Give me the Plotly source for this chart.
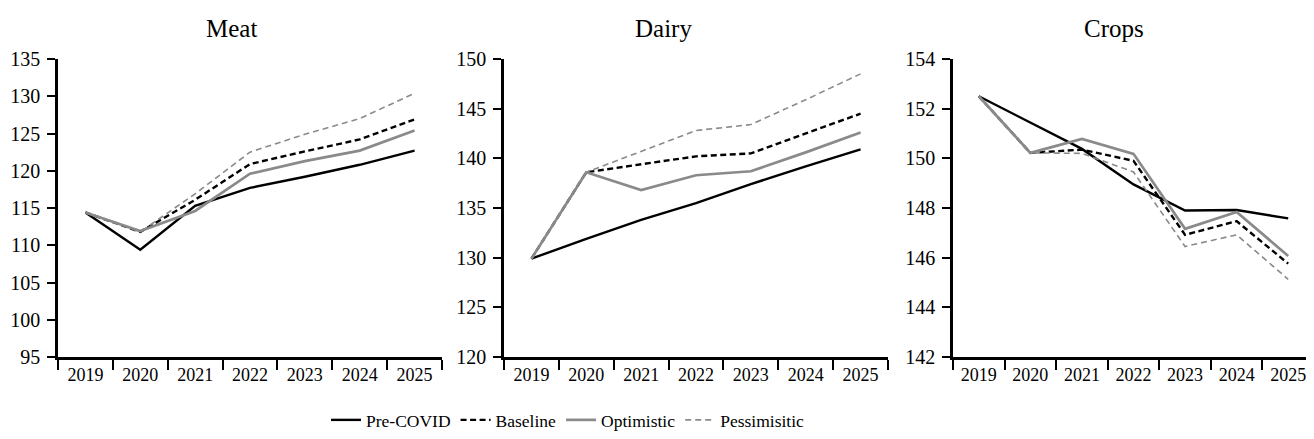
import plotly.graph_objects as go

years = ["2019", "2020", "2021", "2022", "2023", "2024", "2025"]
panels = ["Meat", "Dairy", "Crops"]
series_names = ["Pre-COVID", "Baseline", "Optimistic", "Pessimisitic"]

meat_pre = [114.4, 109.4, 115.3, 117.7, 119.2, 120.8, 122.7]
meat_base = [114.4, 111.8, 116.1, 120.9, 122.6, 124.2, 126.9]
meat_opt = [114.4, 111.9, 114.6, 119.6, 121.3, 122.7, 125.4]
meat_pess = [114.4, 111.8, 116.9, 122.5, 124.9, 127.0, 130.4]

dairy_pre = [129.9, 131.9, 133.8, 135.5, 137.4, 139.2, 140.9]
dairy_base = [129.9, 138.6, 139.4, 140.2, 140.5, 142.5, 144.5]
dairy_opt = [129.9, 138.6, 136.8, 138.3, 138.7, 140.6, 142.6]
dairy_pess = [129.9, 138.6, 140.7, 142.8, 143.4, 145.9, 148.5]

crops_pre = [152.5, 151.45, 150.38, 148.95, 147.9, 147.92, 147.58]
crops_base = [152.5, 150.22, 150.35, 149.9, 146.92, 147.47, 145.76]
crops_opt = [152.5, 150.22, 150.78, 150.18, 147.16, 147.84, 146.07]
crops_pess = [152.5, 150.22, 150.2, 149.45, 146.45, 146.92, 145.13]

y_ranges = [[95, 135], [120, 150], [142, 154]]
y_dticks = [5, 5, 2]

styles = [
    dict(color="#000000", width=2.4, dash="solid"),
    dict(color="#000000", width=2.4, dash="6px,3.5px"),
    dict(color="#8a8a8a", width=2.7, dash="solid"),
    dict(color="#8a8a8a", width=1.6, dash="6px,4px"),
]

data = [
    [meat_pre, meat_base, meat_opt, meat_pess],
    [dairy_pre, dairy_base, dairy_opt, dairy_pess],
    [crops_pre, crops_base, crops_opt, crops_pess],
]

# page has an 8px body margin: figure sits at (8, 8)
OFF = 8
W, H = 1314 - OFF, 439 - OFF
x_domains_px = [(58, 442), (504, 888), (953, 1314)]
x_ranges = [[-0.5, 6.5], [-0.5, 6.5], [-0.5, 6.5]]
y_dom = [1 - (357 - OFF) / H, 1 - (59 - OFF) / H]
title_x_px = [231, 664, 1114]


def fx(px):
    return (px - OFF) / W


def fy(py):
    return 1 - (py - OFF) / H


FONT = "Liberation Serif"

fig = go.Figure()
for p in range(3):
    xa = "x" if p == 0 else f"x{p+1}"
    ya = "y" if p == 0 else f"y{p+1}"
    for s in range(4):
        fig.add_trace(go.Scatter(
            x=years, y=data[p][s], mode="lines",
            name=series_names[s], line=styles[s],
            xaxis=xa, yaxis=ya, showlegend=(p == 0),
        ))
    xkey = "xaxis" if p == 0 else f"xaxis{p+1}"
    ykey = "yaxis" if p == 0 else f"yaxis{p+1}"
    fig.update_layout(**{
        xkey: dict(
            domain=[fx(x_domains_px[p][0]), min(1.0, fx(x_domains_px[p][1]))],
            anchor=ya, type="category", range=x_ranges[p],
            tickson="boundaries", ticks="outside", ticklen=10, tickwidth=2.2,
            tickcolor="black", showline=True, linecolor="black", linewidth=2.5,
            showgrid=False, zeroline=False, automargin=False,
            tickfont=dict(family=FONT, size=18, color="black"),
        ),
        ykey: dict(
            domain=y_dom, anchor=xa, range=y_ranges[p], dtick=y_dticks[p],
            tick0=y_ranges[p][0],
            ticks="outside", ticklen=8, tickwidth=2.2, tickcolor="black",
            showline=True, linecolor="black", linewidth=2.5,
            showgrid=False, zeroline=False, automargin=False,
            tickfont=dict(family=FONT, size=20, color="black"),
            ticklabelstandoff=3,
        ),
    })
    fig.add_annotation(
        text=panels[p], x=fx(title_x_px[p]), y=fy(28),
        xref="paper", yref="paper", xanchor="center", yanchor="middle",
        showarrow=False, font=dict(family=FONT, size=25, color="black"),
    )

fig.update_layout(
    width=W, height=H,
    margin=dict(l=0, r=0, t=0, b=0, autoexpand=False),
    paper_bgcolor="white", plot_bgcolor="white",
    font=dict(family=FONT, color="black"),
    showlegend=True,
    legend=dict(
        orientation="h", x=fx(568), y=fy(420),
        xanchor="center", yanchor="middle",
        font=dict(family=FONT, size=17.5, color="black"),
        itemwidth=30, tracegroupgap=0,
    ),
)

fig.write_html("out.html")
